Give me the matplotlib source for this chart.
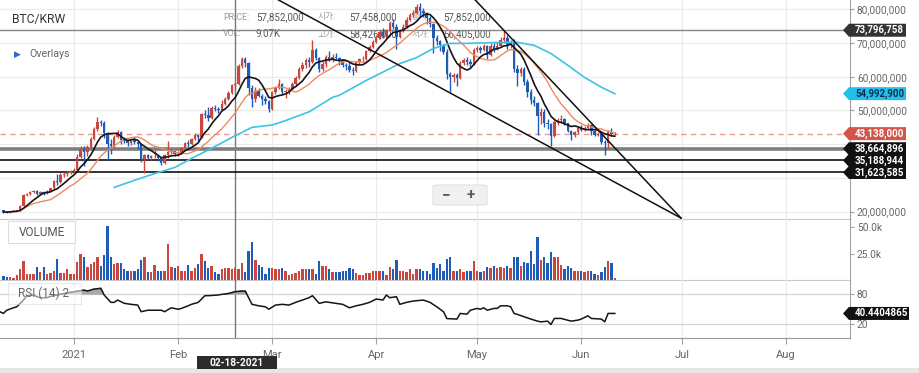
import numpy as np
import pandas as pd
import matplotlib

matplotlib.use("Agg")
import matplotlib.pyplot as plt
import matplotlib.dates as mdates
from matplotlib.patches import FancyBboxPatch, Polygon, Rectangle

W, H, DPI = 919, 373, 100

# Daily BTC/KRW candles, prices in million KRW, first candle 2020-12-11.
# Open of each day is the previous close (24h market).
START_DATE = "2020-12-11"
FIRST_OPEN = 20.4

close_dec = [19.9, 19.8, 20.2, 20.3, 20.4, 21.6, 24.8, 25.3, 25.7, 26.1, 25.3,
             25.8, 25.4, 26.1, 26.9, 29.1, 28.8, 31.0, 31.2, 31.6, 32.0]
high_dec = [20.5, 20.1, 20.3, 20.4, 20.6, 21.9, 25.3, 25.6, 26.0, 26.4, 26.3,
            26.0, 26.2, 26.3, 27.1, 29.4, 31.3, 31.4, 31.7, 32.0, 32.5]
low_dec = [19.7, 19.6, 19.7, 20.0, 20.1, 20.3, 21.5, 24.6, 25.0, 25.5, 24.8,
           25.0, 25.0, 25.2, 25.9, 26.7, 28.0, 28.5, 30.2, 30.6, 31.1]

close_jan = [32.5, 36.1, 38.6, 37.6, 39.3, 41.6, 44.6, 46.6, 46.4, 43.4, 40.0,
             39.4, 42.2, 43.6, 41.4, 40.9, 40.5, 41.2, 40.6, 40.1, 35.6, 36.8,
             36.0, 36.4, 36.6, 36.0, 34.5, 36.8, 37.7, 37.9, 37.0]
high_jan = [32.9, 37.0, 39.4, 39.6, 39.8, 42.0, 45.1, 48.0, 47.3, 46.8, 43.5,
            41.6, 42.6, 44.2, 43.9, 42.2, 41.3, 41.6, 42.1, 40.8, 40.2, 37.2,
            37.0, 36.9, 38.4, 36.8, 36.1, 37.1, 41.0, 38.5, 38.0]
low_jan = [31.5, 32.0, 35.8, 33.4, 36.5, 39.0, 41.3, 44.0, 45.3, 41.8, 35.2,
           37.0, 38.9, 41.8, 40.0, 40.3, 39.5, 39.9, 40.2, 38.5, 34.8, 31.6,
           35.5, 35.4, 36.0, 34.9, 33.9, 34.2, 36.0, 37.0, 36.5]

close_feb = [37.5, 38.9, 40.4, 40.0, 41.5, 42.6, 42.0, 49.0, 48.7, 47.8, 50.6,
             50.4, 50.2, 52.0, 53.5, 55.2, 57.458, 57.852, 63.3, 65.2, 64.0,
             56.8, 53.5, 55.8, 54.3, 53.5, 52.8, 50.5]
high_feb = [38.0, 39.2, 40.8, 41.3, 41.8, 43.3, 42.8, 49.3, 50.0, 51.0, 51.2,
            51.5, 51.0, 53.0, 54.0, 55.9, 57.9, 58.426, 63.8, 66.0, 65.8,
            64.5, 57.5, 57.0, 56.8, 55.0, 54.3, 53.0]
low_feb = [36.6, 37.3, 38.8, 39.2, 39.9, 41.4, 40.9, 41.7, 47.8, 46.8, 47.5,
           49.8, 49.4, 50.0, 51.5, 53.0, 55.0, 56.405, 57.5, 62.5, 62.8,
           54.5, 51.0, 52.5, 54.0, 51.5, 52.0, 49.6]

close_mar = [55.4, 56.6, 57.8, 55.6, 55.8, 56.3, 57.8, 59.6, 62.4, 63.6, 65.0,
             64.3, 68.0, 65.6, 62.2, 63.9, 65.8, 65.3, 65.9, 65.7, 64.9, 63.4,
             63.1, 62.0, 61.6, 64.3, 65.2, 65.4, 67.5, 68.9, 70.3]
high_mar = [55.9, 57.2, 59.2, 58.3, 56.5, 56.9, 58.4, 60.2, 62.9, 64.4, 65.6,
            65.8, 71.0, 68.6, 66.0, 64.6, 66.4, 67.6, 66.8, 67.0, 66.0, 65.3,
            64.0, 64.5, 62.8, 64.6, 65.6, 66.1, 68.0, 69.5, 71.0]
low_mar = [50.2, 55.0, 56.3, 55.0, 53.7, 54.9, 56.0, 57.4, 59.4, 61.8, 62.6,
           62.9, 64.0, 65.0, 61.4, 61.7, 62.8, 64.6, 64.5, 65.2, 63.5, 62.9,
           62.1, 61.5, 60.6, 61.5, 63.8, 64.7, 65.0, 67.2, 68.5]

close_apr = [71.6, 73.2, 72.0, 73.8, 75.8, 74.9, 71.8, 73.6, 74.9, 76.9, 78.2,
             78.9, 80.6, 79.6, 78.9, 77.3, 75.6, 71.5, 70.6, 69.4, 67.4, 60.8,
             59.8, 60.4, 59.5, 64.2, 64.9, 64.4, 63.9, 67.8]
high_apr = [72.3, 73.8, 74.5, 74.3, 76.4, 77.2, 75.5, 74.1, 75.7, 77.7, 78.8,
            79.8, 81.7, 81.9, 80.4, 79.3, 78.0, 76.0, 72.4, 71.0, 69.8, 68.2,
            61.5, 61.0, 61.0, 64.7, 65.6, 66.0, 65.3, 68.5]
low_apr = [70.0, 71.3, 71.4, 71.6, 73.5, 74.2, 68.3, 71.5, 73.2, 74.5, 76.5,
           77.6, 78.5, 77.8, 77.8, 75.6, 74.7, 66.9, 69.4, 67.6, 66.8, 59.3,
           55.4, 58.5, 57.3, 59.3, 63.6, 63.6, 62.8, 63.5]

close_may = [68.4, 67.8, 69.0, 66.6, 69.2, 68.2, 69.0, 70.8, 71.4, 69.3, 70.0,
             62.2, 61.0, 62.4, 58.5, 55.6, 53.1, 52.1, 48.5, 49.5, 46.4, 46.0,
             42.3, 46.6, 47.2, 47.5, 46.3, 44.0, 42.8, 43.6, 44.8]
high_may = [69.0, 69.0, 69.8, 69.5, 69.9, 70.1, 70.2, 71.9, 73.6, 72.4, 70.9,
            71.2, 63.6, 63.0, 63.0, 59.4, 56.3, 54.3, 52.6, 50.8, 50.3, 47.4,
            46.3, 47.3, 47.9, 48.6, 47.8, 46.4, 44.3, 44.0, 45.2]
low_may = [67.2, 67.0, 67.5, 65.3, 66.3, 67.4, 67.8, 68.7, 70.0, 68.2, 68.5,
           61.3, 57.2, 60.3, 57.7, 53.9, 52.0, 51.4, 42.6, 45.9, 45.0, 44.5,
           39.6, 42.0, 45.6, 46.3, 45.7, 43.5, 41.2, 42.1, 42.9]

close_jun = [44.3, 44.9, 45.8, 43.9, 42.8, 43.0, 40.6, 40.4, 43.7, 42.9, 43.138]
high_jun = [45.8, 45.5, 46.4, 46.0, 44.3, 43.7, 43.4, 41.2, 44.2, 44.9, 43.6]
low_jun = [43.9, 43.8, 44.6, 42.6, 42.3, 42.4, 40.1, 36.8, 38.9, 42.4, 42.6]

# volume in thousands, Dec 11 - Apr 22 and Apr 23 - Jun 11
volume_a = [4, 3.3, 3, 2.3, 5, 10, 18.3, 5.7, 5.7, 5.7,
            12.7, 7.7, 12.3, 5.7, 6.7, 9, 20, 6.7, 6.7, 10,
            5.7, 5.7, 16.7, 25, 22.3, 12.3, 15, 16.7, 22.3, 13.3,
            23.3, 51, 22.3, 15, 16, 16, 10, 9, 8.3, 9,
            10, 19, 21.7, 7.7, 7.7, 14.3, 8.3, 9, 9, 34,
            12.3, 11.7, 13.3, 9, 9, 14.3, 9, 11.7, 15, 25,
            18.3, 11.7, 13.3, 7.7, 5.7, 10, 11.7, 11.7, 10.7, 11.7,
            10.7, 16, 7.7, 27.7, 35.7, 19, 14.3, 12.3, 5.7, 11,
            11, 10, 10, 11, 8.3, 5, 5.7, 6.7, 8.3, 10,
            10.7, 10, 10.7, 5.7, 18.3, 13.3, 13.3, 10, 7.7, 7.7,
            7.7, 9, 9, 11, 10, 6.7, 5, 4.3, 6.7, 6.7,
            9, 9, 8.3, 9, 5, 12.3, 10, 19, 8.3, 8.3,
            7.7, 10, 5.7, 10, 10, 9, 8.3, 5.7, 16, 11,
            15, 9, 20]
volume_b = [22.3, 9, 8.3, 10, 7.7, 8.3, 9, 17.7, 9, 7.3,
            9, 12.3, 11.7, 13.3, 11.7, 12.3, 11.7, 13.3, 11, 22.3,
            22.3, 13.3, 16.7, 15.7, 27.3, 15, 41, 19, 21.7, 15.7,
            26.7, 21.7, 21.7, 14.3, 10, 13.3, 11, 9, 9, 8.3,
            7.7, 8.3, 9, 5.7, 5, 7.7, 12.3, 17.7, 15.7, 1.7]

# RSI(14) (day offset from START_DATE, value)
rsi_day = [-1, 0, 1, 3, 4, 6, 7, 9, 10, 11, 13, 14, 16, 18, 20, 21, 24, 25, 27,
           29, 30, 32, 33, 34, 36, 38, 40, 41, 43, 44, 47, 48, 50, 52, 53, 55,
           56, 58, 60, 61, 64, 65, 67, 69, 71, 72, 74, 76, 78, 79, 81, 83, 85,
           87, 89, 91, 92, 94, 96, 97, 99, 101, 103, 105, 107, 109, 111, 113,
           114, 115, 117, 118, 120, 122, 125, 127, 129, 131, 132, 135, 136, 138,
           139, 141, 142, 143, 144, 146, 147, 148, 150, 151, 152, 153, 155, 157,
           159, 160, 162, 163, 164, 166, 169, 171, 172, 174, 175, 178, 179, 180,
           182]
rsi_val = [43.8, 40.5, 47, 52, 54, 67.7, 76.6, 78, 74.5, 72.5, 72.5, 75.2, 78,
           81, 83.4, 84.7, 88, 86, 90, 91.6, 78, 63, 63, 67.7, 61, 59, 57.5, 44,
           47, 47, 47, 44, 52, 49, 50.7, 56, 59, 63, 76.6, 76.6, 78, 79.3, 81,
           84.7, 86, 86, 59, 56, 54, 49, 57.5, 59, 57.5, 63, 67.7, 72.5, 76.6,
           61, 64, 63, 61, 59, 52, 56, 59, 63, 69.8, 67.7, 78, 72.5, 74.5, 59,
           63, 65.7, 67.7, 63, 54, 44, 30, 29, 40.5, 39, 47, 50.7, 49, 52, 47,
           50.7, 50.7, 56, 56, 54, 40.5, 38.5, 33.7, 29, 24.8, 23.4, 24.8, 18,
           30.3, 30.3, 24.8, 26.8, 29, 35.6, 30.3, 29, 23.4, 40.5, 40.44]

# long moving average (cyan)
ma_long_day = [33, 39, 45, 51, 56, 62, 68, 74, 80, 84, 88, 91, 98, 100, 108,
               118, 123, 128, 133, 138, 148, 153, 158, 163, 168, 173, 178, 182]
ma_long_val = [27.2, 29.3, 31.3, 33.1, 35.8, 38.8, 42.0, 45.0, 45.7, 47.0, 48.5,
               49.6, 53.9, 54.5, 58.9, 63.9, 65.7, 68.4, 69.9, 69.9, 70.2, 70.2,
               69.3, 66.9, 63.4, 59.8, 56.9, 54.99]

VIEW_START = "2020-12-10"
VIEW_END = "2021-08-20"
HOVER_DATE = "2021-02-18"
MONTH_TICKS = ["2021-01-01", "2021-02-01", "2021-03-01", "2021-04-01",
               "2021-05-01", "2021-06-01", "2021-07-01", "2021-08-01"]
MONTH_LABELS = ["2021", "Feb", "Mar", "Apr", "May", "Jun", "Jul", "Aug"]
PRICE_TICKS = [20, 30, 40, 50, 60, 70, 80]
# 30M and 40M labels sit under the level tags
PRICE_LABELS = ["20,000,000", "", "", "50,000,000", "60,000,000",
                "70,000,000", "80,000,000"]

LAST_PRICE = 43.138
RESIST_LEVEL = 73.796758
SUPPORT_LEVELS = [38.664896, 35.188944, 31.623585]
TREND_LINES = [
    ("2021-03-02 20:00", 82.8, "2021-06-30 17:00", 18.1),
    ("2021-04-30 10:00", 82.8, "2021-06-30 17:00", 18.1),
]

RED = "#c9473d"
BLUE = "#1f5cb8"
GRID = "#ebebeb"


def fx(px):
    return px / W


def fy(py):
    return 1 - py / H


def tag(fig, ax, value, text, face, color, width=63):
    y = H - ax.transData.transform((ax.get_xlim()[0], value))[1]
    pts = [(843, y), (849, y - 6.5), (843 + width, y - 6.5),
           (843 + width, y + 6.5), (849, y + 6.5)]
    fig.add_artist(Polygon([(fx(a), fy(b)) for a, b in pts], closed=True,
                           transform=fig.transFigure, facecolor=face,
                           edgecolor="none", zorder=10))
    fig.text(fx(848 + width / 2), fy(y), text, ha="center", va="center",
             fontsize=7, fontweight="bold", color=color, zorder=11)


def main():
    plt.rcParams["font.family"] = ["Roboto", "Noto Sans CJK KR", "DejaVu Sans"]

    close = np.array(close_dec + close_jan + close_feb + close_mar
                     + close_apr + close_may + close_jun)
    high = np.array(high_dec + high_jan + high_feb + high_mar
                    + high_apr + high_may + high_jun)
    low = np.array(low_dec + low_jan + low_feb + low_mar
                   + low_apr + low_may + low_jun)
    volume = np.array(volume_a + volume_b)
    opens = np.concatenate([[FIRST_OPEN], close[:-1]])

    start = mdates.date2num(pd.Timestamp(START_DATE))
    x = start + np.arange(len(close))
    up = close >= opens
    colors = np.where(up, RED, BLUE)

    ma7 = pd.Series(close).rolling(7, min_periods=1).mean()
    ma15 = pd.Series(close).rolling(15, min_periods=1).mean()

    fig = plt.figure(figsize=(W / DPI, H / DPI), dpi=DPI)
    fig.patch.set_facecolor("white")
    pw = 850 / W
    ax_p = fig.add_axes([0, fy(219), pw, 219 / H])
    ax_v = fig.add_axes([0, fy(280), pw, 61 / H])
    ax_r = fig.add_axes([0, fy(338), pw, 58 / H])

    xlim = (mdates.date2num(pd.Timestamp(VIEW_START)),
            mdates.date2num(pd.Timestamp(VIEW_END)))
    months = [mdates.date2num(pd.Timestamp(d)) for d in MONTH_TICKS]
    hover = mdates.date2num(pd.Timestamp(HOVER_DATE))

    for ax in (ax_p, ax_v, ax_r):
        ax.set_xlim(*xlim)
        ax.set_facecolor("none")
        for side in ("top", "left"):
            ax.spines[side].set_visible(False)
        ax.spines["right"].set_color("#a0a0a0")
        ax.spines["bottom"].set_color("#c8c8c8")
        ax.set_xticks(months)
        ax.yaxis.tick_right()
        ax.tick_params(axis="y", length=3, width=0.8, pad=2, labelsize=7.3,
                       colors="#a0a0a0", labelcolor="#666666")
        ax.axvline(hover, color="#777777", lw=1, zorder=2)
        for m in months:
            ax.axvline(m, color=GRID, lw=0.9, zorder=0)
    for ax in (ax_p, ax_v):
        ax.tick_params(axis="x", length=0, labelbottom=False)

    # price panel
    ax_p.set_ylim(17.83, 82.76)
    ax_p.set_yticks(PRICE_TICKS)
    ax_p.set_yticklabels(PRICE_LABELS)
    for v in PRICE_TICKS:
        ax_p.axhline(v, color=GRID, lw=0.9, zorder=0)

    ax_p.vlines(x, low, high, colors=colors, lw=1, zorder=3)
    body = np.maximum(np.abs(close - opens), 0.15)
    ax_p.bar(x, body, bottom=np.minimum(opens, close), width=0.72,
             color=colors, zorder=3)

    ax_p.plot(x, ma15, color="#ef8a5e", lw=1.0, zorder=4)
    ax_p.plot(x, ma7, color="#151515", lw=1.2, zorder=4)
    ax_p.plot(start + np.array(ma_long_day), ma_long_val, color="#3ec3e3",
              lw=1.2, zorder=4)

    ax_p.axhline(RESIST_LEVEL, color="#858585", lw=1, zorder=2)
    ax_p.axhline(LAST_PRICE, color="#e99d92", lw=1, ls=(0, (4, 3)), zorder=2)
    ax_p.axhline(SUPPORT_LEVELS[0], color="#7f7f7f", lw=2.6, zorder=2)
    for lvl in SUPPORT_LEVELS[1:]:
        ax_p.axhline(lvl, color="#111111", lw=1.2, zorder=2)
    for d0, p0, d1, p1 in TREND_LINES:
        ax_p.plot([mdates.date2num(pd.Timestamp(d0)),
                   mdates.date2num(pd.Timestamp(d1))], [p0, p1],
                  color="#111111", lw=1.1, zorder=4)

    # header read-out (drawn under the candles)
    head = dict(transform=fig.transFigure, va="center", zorder=1)
    for px, py, s in [(223, 17, "PRICE:"), (223, 34, "VOL:"),
                      (318, 17, "시가:"), (318, 34, "고가:"),
                      (412, 17, "종가:"), (412, 34, "저가:")]:
        ax_p.text(fx(px), fy(py), s, fontsize=6.3, color="#9a9a9a", **head)
    for px, py, s in [(256, 17, "57,852,000"), (256, 34, "9.07K"),
                      (349, 17, "57,458,000"), (349, 34, "58,426,000"),
                      (443, 17, "57,852,000"), (443, 34, "56,405,000")]:
        ax_p.text(fx(px), fy(py), s, fontsize=7, color="#555555", **head)

    # volume panel
    ax_v.set_ylim(0, 58)
    ax_v.set_yticks([25, 50])
    ax_v.set_yticklabels(["25.0k", "50.0k"])
    ax_v.bar(x, volume, width=0.7, color=colors, zorder=3)

    # rsi panel
    rx = start + np.array(rsi_day)
    rv = np.array(rsi_val)
    ax_r.set_ylim(-9.5, 108.5)
    ax_r.set_yticks([20, 80])
    ax_r.set_yticklabels(["20", "80"])
    for v in (20, 80):
        ax_r.axhline(v, color="#d4d4d4", lw=0.9, zorder=0)
    ax_r.fill_between(rx, rv, 80, where=rv > 80, interpolate=True,
                      color="#a8a8a8", zorder=2)
    ax_r.plot(rx, rv, color="#151515", lw=1.1, zorder=3)
    ax_r.spines["bottom"].set_color("#9a9a9a")
    ax_r.set_xticklabels(MONTH_LABELS)
    ax_r.tick_params(axis="x", length=4, width=0.8, pad=5, labelsize=8,
                     colors="#a0a0a0", labelcolor="#666666")

    # labels and boxes
    fig.text(fx(12), fy(19), "BTC/KRW", fontsize=8.7, color="#333333",
             va="center")
    fig.text(fx(14), fy(54), "▶", fontsize=6.5, color="#2a6cd1", va="center",
             family=["DejaVu Sans"])
    fig.text(fx(29), fy(54), "Overlays", fontsize=7.7, color="#666666",
             va="center")

    fig.add_artist(FancyBboxPatch((fx(433), fy(205)), fx(54), 20 / H,
                                  boxstyle="round,pad=0,rounding_size=0.004",
                                  transform=fig.transFigure, facecolor="#f1f1f1",
                                  edgecolor="#e2e2e2", lw=0.8, zorder=6))
    fig.text(fx(446), fy(195), "−", fontsize=11, fontweight="bold",
             color="#5a5a5a", ha="center", va="center", zorder=7)
    fig.text(fx(471), fy(195), "+", fontsize=11, fontweight="bold",
             color="#5a5a5a", ha="center", va="center", zorder=7)

    fig.add_artist(FancyBboxPatch((fx(8), fy(243)), fx(67), 22 / H,
                                  boxstyle="square,pad=0",
                                  transform=fig.transFigure, facecolor="white",
                                  edgecolor="#dedede", lw=0.8, zorder=6))
    fig.text(fx(41.5), fy(232), "VOLUME", fontsize=8.5, color="#555555",
             ha="center", va="center", zorder=7)
    fig.add_artist(FancyBboxPatch((fx(8), fy(304)), fx(73), 21 / H,
                                  boxstyle="square,pad=0",
                                  transform=fig.transFigure, facecolor="white",
                                  alpha=0.55, edgecolor="#d6d6d6", lw=0.8,
                                  zorder=6))
    fig.text(fx(44), fy(293), "RSI (14) 2", fontsize=8.5, color="#666666",
             ha="center", va="center", zorder=7)

    # right-side value tags
    tag(fig, ax_p, RESIST_LEVEL, "73,796,758", "#333333", "white")
    tag(fig, ax_p, 54.9929, "54,992,900", "#22bfee", "#10324a")
    tag(fig, ax_p, LAST_PRICE, "43,138,000", "#d2554a", "white")
    for lvl, s in zip(SUPPORT_LEVELS, ["38,664,896", "35,188,944", "31,623,585"]):
        tag(fig, ax_p, lvl, s, "#111111", "white")
    tag(fig, ax_r, 40.44, "40.4404865", "#111111", "white", width=66)

    # hovered date label and bottom strip
    fig.add_artist(Rectangle((fx(197), fy(369)), fx(80), 13 / H,
                             transform=fig.transFigure, facecolor="#2c2c2c",
                             edgecolor="none", zorder=8))
    fig.text(fx(237), fy(362.5), "02-18-2021", fontsize=7.3, fontweight="bold",
             color="white", ha="center", va="center", zorder=9)
    fig.add_artist(Rectangle((0, 0), 1, 5 / H, transform=fig.transFigure,
                             facecolor="#e6e6e6", edgecolor="none", zorder=5))

    fig.savefig("out.png", dpi=DPI)


if __name__ == "__main__":
    main()
